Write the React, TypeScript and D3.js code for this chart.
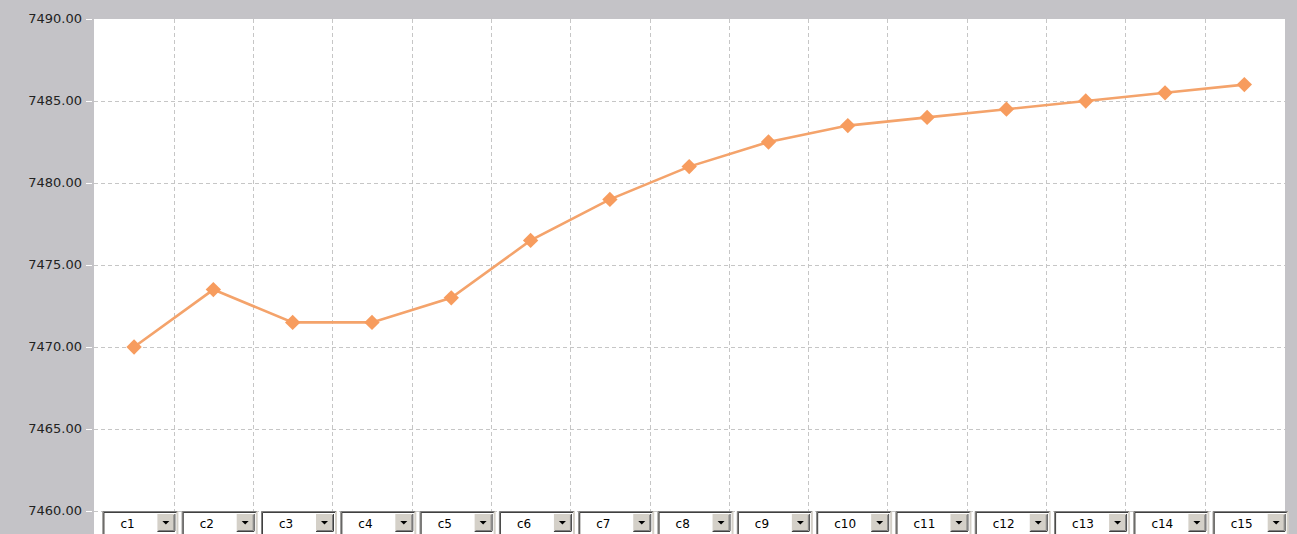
import * as d3 from 'd3';

const CATEGORIES = ['c1', 'c2', 'c3', 'c4', 'c5', 'c6', 'c7', 'c8', 'c9', 'c10', 'c11', 'c12', 'c13', 'c14', 'c15'];
const VALUES = [7470, 7473.5, 7471.5, 7471.5, 7473, 7476.5, 7479, 7481, 7482.5, 7483.5, 7484, 7484.5, 7485, 7485.5, 7486];
const Y_TICKS = [7460, 7465, 7470, 7475, 7480, 7485, 7490];

const WIDTH = 1297;
const HEIGHT = 534;
const PLOT = { left: 94, right: 1285, top: 19, bottom: 534 };
const FONT = 'Tahoma, "DejaVu Sans", sans-serif';

const App = () => {
  const xScale = d3.scaleBand().domain(CATEGORIES).range([94.4, 1284]).padding(0);
  const yScale = d3.scaleLinear().domain([7460, 7490]).range([511, 19]);
  const bw = xScale.bandwidth();
  const cx = (c: string) => (xScale(c) ?? 0) + bw / 2;

  const line = d3
    .line<number>()
    .x((_, i) => cx(CATEGORIES[i]))
    .y(d => yScale(d));

  const diamond = d3.symbol().type(d3.symbolDiamond2).size(150)();

  return (
    <svg
      width={WIDTH}
      height={HEIGHT}
      style={{ position: 'absolute', left: 0, top: 0, display: 'block' }}
    >
      <rect x={0} y={0} width={WIDTH} height={HEIGHT} fill="#c4c3c7" />
      <rect
        x={PLOT.left}
        y={PLOT.top}
        width={PLOT.right - PLOT.left}
        height={PLOT.bottom - PLOT.top}
        fill="#ffffff"
      />

      {/* vertical grid at band edges */}
      {CATEGORIES.slice(1).map(c => (
        <line
          key={`vg-${c}`}
          x1={Math.round(xScale(c) ?? 0) + 0.5}
          x2={Math.round(xScale(c) ?? 0) + 0.5}
          y1={PLOT.top}
          y2={PLOT.bottom}
          stroke="#c6c6c6"
          strokeDasharray="4,3"
        />
      ))}

      {/* horizontal grid + y labels */}
      {Y_TICKS.map(t => {
        const y = Math.round(yScale(t)) + 0.5;
        return (
          <g key={`yt-${t}`}>
            {t !== 7490 && (
              <line
                x1={PLOT.left}
                x2={PLOT.right}
                y1={y}
                y2={y}
                stroke="#c6c6c6"
                strokeDasharray="4,3"
              />
            )}
            <line x1={86} x2={92} y1={y} y2={y} stroke="#ffffff" />
            <text
              x={82}
              y={y}
              dominantBaseline="middle"
              textAnchor="end"
              fontFamily={FONT}
              fontSize={13}
              fill="#222"
            >
              {t.toFixed(2)}
            </text>
          </g>
        );
      })}

      {/* series */}
      <path d={line(VALUES) ?? ''} fill="none" stroke="#f4a36b" strokeWidth={2.6} />
      {VALUES.map((v, i) => (
        <path
          key={`pt-${CATEGORIES[i]}`}
          d={diamond ?? ''}
          transform={`translate(${cx(CATEGORIES[i])},${yScale(v)})`}
          fill="#f79c5e"
        />
      ))}

      {/* combo boxes */}
      {CATEGORIES.map(c => {
        const x0 = (xScale(c) ?? 0) + 10;
        const w = 72;
        const y0 = 513;
        const h = 24;
        const bx = x0 + w - 19;
        return (
          <g key={`cb-${c}`}>
            <rect x={x0 - 2} y={y0 - 2} width={w + 4} height={h + 4} fill="#d4d0c8" />
            <rect x={x0} y={y0} width={w} height={h} fill="#ffffff" />
            <line x1={x0 - 1.5} x2={x0 + w + 1} y1={y0 - 1.5} y2={y0 - 1.5} stroke="#808080" />
            <line x1={x0 - 1.5} x2={x0 - 1.5} y1={y0 - 1.5} y2={y0 + h} stroke="#808080" />
            <line x1={x0 - 0.5} x2={x0 + w} y1={y0 - 0.5} y2={y0 - 0.5} stroke="#404040" />
            <line x1={x0 - 0.5} x2={x0 - 0.5} y1={y0 - 0.5} y2={y0 + h} stroke="#404040" />
            <rect x={bx} y={y0 + 1} width={17} height={17} fill="#d4d0c8" />
            <line x1={bx + 17.5} x2={bx + 17.5} y1={y0 + 1} y2={y0 + 18} stroke="#404040" />
            <line x1={bx} x2={bx + 17.5} y1={y0 + 18.5} y2={y0 + 18.5} stroke="#404040" />
            <line x1={bx + 16.5} x2={bx + 16.5} y1={y0 + 2} y2={y0 + 17} stroke="#808080" />
            <line x1={bx + 1} x2={bx + 16.5} y1={y0 + 17.5} y2={y0 + 17.5} stroke="#808080" />
            <path
              d={`M${bx + 5},${y0 + 8} L${bx + 12},${y0 + 8} L${bx + 8.5},${y0 + 11.5} Z`}
              fill="#000"
            />
            <text
              x={x0 + 16}
              y={y0 + 11}
              dominantBaseline="middle"
              fontFamily={FONT}
              fontSize={12}
              fill="#000"
            >
              {c}
            </text>
          </g>
        );
      })}
    </svg>
  );
};

export default App;
